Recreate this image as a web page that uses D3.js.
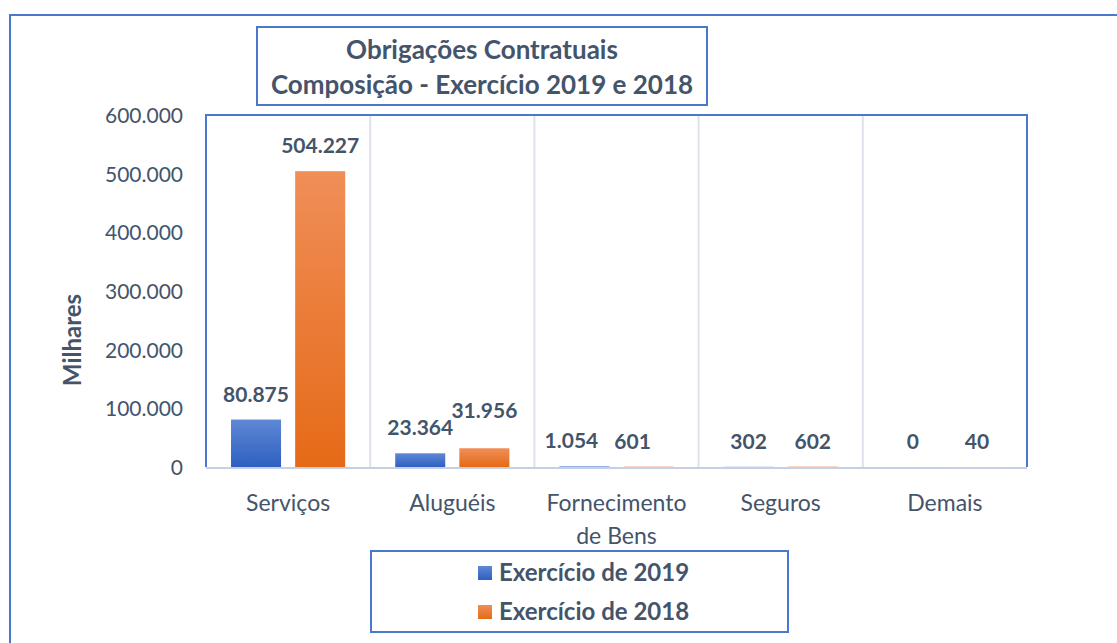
<!DOCTYPE html>
<html>
<head>
<meta charset="utf-8">
<script src="https://cdn.jsdelivr.net/npm/d3@7"></script>
<style>
  body { margin: 0; background: #fff; }
  svg text { font-family: Lato, "Open Sans", sans-serif; fill: #44546a; }
</style>
</head>
<body>
<div id="chart"></div>
<script>
// data
var categories = ["Serviços", "Aluguéis", "Fornecimento de Bens", "Seguros", "Demais"];
var series = ["Exercício de 2019", "Exercício de 2018"];
var values2019 = [80875, 23364, 1054, 302, 0];
var values2018 = [504227, 31956, 601, 602, 40];
var yTicks = [0, 100000, 200000, 300000, 400000, 500000, 600000];
var titleLines = ["Obrigações Contratuais", "Composição - Exercício 2019 e 2018"];

var width = 1117, height = 643;
var plot = {left: 206, right: 1027, top: 115, bottom: 467};

var svg = d3.select("#chart").append("svg")
  .attr("width", width)
  .attr("height", height);

var defs = svg.append("defs");
function grad(id, top, bottom) {
  var g = defs.append("linearGradient").attr("id", id)
    .attr("x1", 0).attr("y1", 0).attr("x2", 0).attr("y2", 1);
  g.append("stop").attr("offset", "0%").attr("stop-color", top);
  g.append("stop").attr("offset", "100%").attr("stop-color", bottom);
}
grad("gBlue", "#5f88d6", "#2e60bf");
grad("gOrange", "#f08e58", "#e56a17");
var fills = ["url(#gBlue)", "url(#gOrange)"];

// outer frame
svg.append("rect")
  .attr("x", 10).attr("y", 15)
  .attr("width", width + 20).attr("height", height + 20)
  .attr("fill", "none").attr("stroke", "#4a78cc").attr("stroke-width", 2);

var x = d3.scaleBand()
  .domain(categories)
  .range([plot.left, plot.right]);

var x1 = d3.scaleBand()
  .domain(series)
  .range([0, x.bandwidth()])
  .paddingInner(0.22)
  .paddingOuter(0.39);

var y = d3.scaleLinear()
  .domain([0, 600000])
  .range([plot.bottom, plot.top]);

var fmt = function(v) { return d3.format(",")(v).replace(/,/g, "."); };

// vertical gridlines between categories
svg.append("g")
  .selectAll("line")
  .data(categories.slice(1))
  .join("line")
  .attr("x1", function(d) { return x(d); })
  .attr("x2", function(d) { return x(d); })
  .attr("y1", plot.top)
  .attr("y2", plot.bottom)
  .attr("stroke", "#dde2ea")
  .attr("stroke-width", 2);

// y axis labels
var yAxis = svg.append("g")
  .attr("transform", "translate(" + (plot.left - 23) + ",0)")
  .call(d3.axisLeft(y).tickValues(yTicks).tickSize(0).tickPadding(0).tickFormat(fmt));
yAxis.select(".domain").remove();
yAxis.selectAll("text")
  .attr("font-size", 21)
  .attr("dy", "0.35em")
  .style("font-family", "Lato, 'Open Sans', sans-serif")
  .style("fill", "#44546a");

svg.append("text")
  .attr("transform", "translate(81,340) rotate(-90)")
  .attr("text-anchor", "middle")
  .attr("font-size", 24)
  .attr("font-weight", "bold")
  .text("Milhares");

// bars
var rows = categories.map(function(c, i) {
  return {cat: c, vals: [values2019[i], values2018[i]]};
});

var groups = svg.append("g").selectAll("g")
  .data(rows)
  .join("g")
  .attr("transform", function(d) { return "translate(" + x(d.cat) + ",0)"; });

groups.selectAll("rect")
  .data(function(d) { return d.vals.map(function(v, j) { return {s: series[j], v: v, j: j}; }); })
  .join("rect")
  .attr("x", function(d) { return x1(d.s); })
  .attr("width", x1.bandwidth())
  .attr("y", function(d) { return y(d.v); })
  .attr("height", function(d) { return plot.bottom - y(d.v); })
  .attr("fill", function(d) { return fills[d.j]; });

// label nudges where Excel moved labels to avoid collisions
var nudge = {"Aluguéis|1": [0, -12], "Fornecimento de Bens|0": [-13, 0], "Fornecimento de Bens|1": [-16, 0]};

groups.selectAll("text.val")
  .data(function(d) { return d.vals.map(function(v, j) { return {cat: d.cat, s: series[j], v: v, j: j}; }); })
  .join("text")
  .attr("class", "val")
  .attr("x", function(d) {
    var n = nudge[d.cat + "|" + d.j] || [0, 0];
    return x1(d.s) + x1.bandwidth() / 2 + n[0];
  })
  .attr("y", function(d) {
    var n = nudge[d.cat + "|" + d.j] || [0, 0];
    return y(d.v) - 18 + n[1];
  })
  .attr("text-anchor", "middle")
  .attr("font-size", 21)
  .attr("font-weight", "bold")
  .text(function(d) { return fmt(d.v); });

// plot frame (top, left, right in blue) and bottom axis line
svg.append("path")
  .attr("d", "M" + plot.left + "," + plot.bottom + "V" + plot.top + "H" + plot.right + "V" + plot.bottom)
  .attr("fill", "none").attr("stroke", "#4a78cc").attr("stroke-width", 2);
svg.append("line")
  .attr("x1", plot.left).attr("x2", plot.right)
  .attr("y1", plot.bottom + 1).attr("y2", plot.bottom + 1)
  .attr("stroke", "#c6d0e2").attr("stroke-width", 2);

// category labels
var catLabels = svg.append("g").selectAll("text")
  .data(categories)
  .join("text")
  .attr("x", function(d) { return x(d) + x.bandwidth() / 2; })
  .attr("y", 511)
  .attr("text-anchor", "middle")
  .attr("font-size", 23);
catLabels.each(function(d) {
  var t = d3.select(this);
  var parts = d === "Fornecimento de Bens" ? ["Fornecimento", "de Bens"] : [d];
  parts.forEach(function(p, k) {
    t.append("tspan")
      .attr("x", x(d) + x.bandwidth() / 2)
      .attr("dy", k === 0 ? 0 : 33)
      .text(p);
  });
});

// title box
svg.append("rect")
  .attr("x", 257).attr("y", 27).attr("width", 450).attr("height", 78)
  .attr("fill", "#fff").attr("stroke", "#4a78cc").attr("stroke-width", 2);
svg.append("g").selectAll("text")
  .data(titleLines)
  .join("text")
  .attr("x", 482)
  .attr("y", function(d, i) { return 59 + i * 35; })
  .attr("text-anchor", "middle")
  .attr("font-size", 26)
  .attr("font-weight", "bold")
  .text(function(d) { return d; });

// legend
svg.append("rect")
  .attr("x", 371).attr("y", 551).attr("width", 417).attr("height", 81)
  .attr("fill", "#fff").attr("stroke", "#4a78cc").attr("stroke-width", 2);
var leg = svg.append("g").selectAll("g")
  .data(series)
  .join("g")
  .attr("transform", function(d, i) { return "translate(478," + (573 + i * 39) + ")"; });
leg.append("rect")
  .attr("x", 0).attr("y", -7).attr("width", 14).attr("height", 14)
  .attr("fill", function(d, i) { return fills[i]; });
leg.append("text")
  .attr("x", 21).attr("y", 0).attr("dy", "0.35em")
  .attr("font-size", 24)
  .attr("font-weight", "bold")
  .text(function(d) { return d; });
</script>
</body>
</html>
